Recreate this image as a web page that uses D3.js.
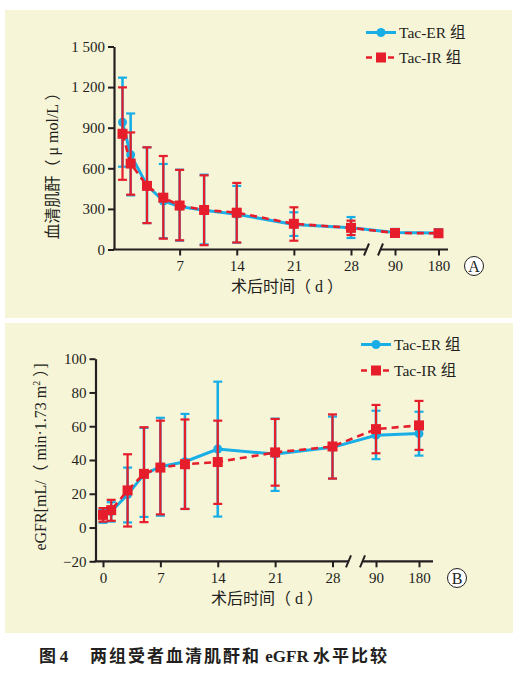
<!DOCTYPE html>
<html><head><meta charset="utf-8">
<script src="https://cdn.jsdelivr.net/npm/d3@7"></script>
<style>
body{margin:0;background:#fff}
svg{display:block}
text{font-family:"Liberation Serif","Noto Sans CJK SC",serif;fill:#231f20}
</style></head><body>
<svg id="c" width="527" height="685"></svg>
<script>
// ---------- data ----------
const days = [0, 1, 3, 5, 7, 10, 14, 21, 28, 90, 180];
const seriesNames = ["Tac-ER 组", "Tac-IR 组"];

const scrER   = [940, 700, 475, 358, 318, 290, 260, 185, 160, 125, 122];
const scrERhi = [1270, 1005, 755, 632, 590, 553, 470, 275, 240, 152, 150];
const scrERlo = [612, 400, 195, 84, 65, 38, 50, 100, 85, 98, 95];
const scrIR   = [855, 635, 470, 383, 325, 292, 272, 190, 160, 122, 120];
const scrIRhi = [1198, 865, 755, 691, 588, 548, 492, 312, 213, 140, 138];
const scrIRlo = [515, 405, 195, 80, 68, 32, 52, 65, 107, 105, 102];

const gfrER   = [7, 9.5, 19.5, 31.5, 36, 39, 46.5, 43.5, 47.5, 54.7, 55.7];
const gfrERhi = [10.5, 15, 35.5, 59, 65, 67.3, 86.4, 64.5, 65.7, 69.2, 68.6];
const gfrERlo = [2.8, 3.5, 3, 6.3, 7, 11, 6.5, 21.7, 29, 40.5, 42.6];
const gfrIR   = [7.5, 10.3, 22, 31.8, 35.5, 37.5, 38.8, 44.5, 48, 58.3, 60.5];
const gfrIRhi = [11.5, 16.4, 43.4, 59.4, 63.3, 64, 63.3, 64.3, 67, 72.6, 75];
const gfrIRlo = [3.5, 4, 0.6, 3.2, 7.8, 11, 14, 24.8, 29, 44, 46];

const scrTicks = [0, 300, 600, 900, 1200, 1500];
const scrTickLabels = ["0", "300", "600", "900", "1 200", "1 500"];
const gfrTicks = [-20, 0, 20, 40, 60, 80, 100];
const gfrTickLabels = ["\u221220", "0", "20", "40", "60", "80", "100"];
const xTicksA = [7, 14, 21, 28, 90, 180];
const xTicksB = [0, 7, 14, 21, 28, 90, 180];
const xDomainKnots = [0, 28, 90, 180];

const BLUE = "#1aaee6", RED = "#e61e2b", INK = "#231f20", BG = "#f7f5d8";

const svg = d3.select("#c");

function panel(cfg) {
  const g = svg.append("g");
  g.append("rect").attr("x", cfg.box[0]).attr("y", cfg.box[1])
    .attr("width", cfg.box[2]).attr("height", cfg.box[3]).attr("fill", BG);

  const x = d3.scaleLinear().domain(xDomainKnots).range(cfg.xr);
  const y = d3.scaleLinear().domain(cfg.yd).range(cfg.yr);

  // y axis
  const ya = g.append("g").attr("transform", `translate(${cfg.ax},0)`)
    .call(d3.axisLeft(y).tickValues(cfg.yTicks).tickSize(6).tickSizeOuter(0).tickPadding(3)
      .tickFormat((d, i) => cfg.yLabels[i]));
  ya.select(".domain").attr("stroke", INK).attr("stroke-width", 2.2);
  ya.selectAll(".tick line").attr("stroke", INK).attr("stroke-width", 2);
  ya.selectAll(".tick text").style("font-size", "15px").attr("fill", INK);

  // x axis
  const base = cfg.yr[0];
  const xa = g.append("g").attr("transform", `translate(0,${base})`)
    .call(d3.axisBottom(x).tickValues(cfg.xTicks).tickSize(6).tickPadding(5));
  xa.select(".domain").remove();
  xa.selectAll(".tick line").attr("stroke", INK).attr("stroke-width", 2);
  xa.selectAll(".tick text").style("font-size", "15px").attr("fill", INK);
  // axis line with break
  g.append("line").attr("x1", cfg.ax - 1).attr("x2", cfg.brk[0]).attr("y1", base).attr("y2", base)
    .attr("stroke", INK).attr("stroke-width", 2.2);
  g.append("line").attr("x1", cfg.brk[1]).attr("x2", cfg.xEnd).attr("y1", base).attr("y2", base)
    .attr("stroke", INK).attr("stroke-width", 2.2);
  cfg.brk.forEach(bx => {
    g.append("line").attr("x1", bx - 3).attr("x2", bx + 2).attr("y1", base + 6).attr("y2", base - 6)
      .attr("stroke", INK).attr("stroke-width", 2);
  });

  // error bars + lines + markers
  const series = [
    {v: cfg.er, hi: cfg.erHi, lo: cfg.erLo, color: BLUE, w: 2.6, dash: null},
    {v: cfg.ir, hi: cfg.irHi, lo: cfg.irLo, color: RED, w: 2.2, dash: "7,5"}
  ];
  series.forEach((s, si) => {
    const eb = g.append("g");
    days.forEach((d, i) => {
      const cx = x(d);
      eb.append("line").attr("x1", cx).attr("x2", cx).attr("y1", y(s.hi[i])).attr("y2", y(s.lo[i]))
        .attr("stroke", s.color).attr("stroke-width", s.w);
      [s.hi[i], s.lo[i]].forEach(v => {
        eb.append("line").attr("x1", cx - 4.5).attr("x2", cx + 4.5).attr("y1", y(v)).attr("y2", y(v))
          .attr("stroke", s.color).attr("stroke-width", 2.2);
      });
    });
    const line = d3.line().x((d, i) => x(d)).y((d, i) => y(s.v[i]));
    g.append("path").datum(days).attr("d", line).attr("fill", "none")
      .attr("stroke", s.color).attr("stroke-width", si === 0 ? 3 : 2.6)
      .attr("stroke-dasharray", s.dash);
    days.forEach((d, i) => {
      if (si === 0) {
        g.append("circle").attr("cx", x(d)).attr("cy", y(s.v[i])).attr("r", 4.5).attr("fill", BLUE);
      } else {
        g.append("rect").attr("x", x(d) - 5).attr("y", y(s.v[i]) - 5).attr("width", 10).attr("height", 10).attr("fill", RED);
      }
    });
  });

  // legend
  const lg = g.append("g");
  const [lx, ly1, ly2] = cfg.legend;
  lg.append("line").attr("x1", lx).attr("x2", lx + 30).attr("y1", ly1).attr("y2", ly1)
    .attr("stroke", BLUE).attr("stroke-width", 3);
  lg.append("circle").attr("cx", lx + 15).attr("cy", ly1).attr("r", 4.5).attr("fill", BLUE);
  lg.append("text").attr("x", lx + 33).attr("y", ly1 + 5.5).style("font-size", "15.5px").text(seriesNames[0]);
  lg.append("line").attr("x1", lx).attr("x2", lx + 30).attr("y1", ly2).attr("y2", ly2)
    .attr("stroke", RED).attr("stroke-width", 2.6).attr("stroke-dasharray", "6,5");
  lg.append("rect").attr("x", lx + 10).attr("y", ly2 - 5).attr("width", 10).attr("height", 10).attr("fill", RED);
  lg.append("text").attr("x", lx + 33).attr("y", ly2 + 5.5).style("font-size", "15.5px").text(seriesNames[1]);

  // titles
  g.append("text").attr("x", cfg.xt[0]).attr("y", cfg.xt[1]).attr("text-anchor", "middle")
    .style("font-size", "16px").text("术后时间（ d ）");
  const yt = g.append("text").attr("transform", `translate(${cfg.yt[0]},${cfg.yt[1]}) rotate(-90)`)
    .attr("text-anchor", "middle").style("font-size", "16px");
  cfg.ytitle(yt);

  // panel letter
  g.append("circle").attr("cx", cfg.letter[0]).attr("cy", cfg.letter[1]).attr("r", 9.5)
    .attr("fill", "#fff").attr("stroke", INK).attr("stroke-width", 1);
  g.append("text").attr("x", cfg.letter[0]).attr("y", cfg.letter[1] + 5.5).attr("text-anchor", "middle")
    .style("font-size", "16px").text(cfg.letterText);
}

panel({
  box: [5, 10, 507, 308],
  xr: [122.5, 351, 395, 438.5], yd: [0, 1500], yr: [249.5, 46.5],
  ax: 114, xEnd: 448, brk: [367, 381],
  yTicks: scrTicks, yLabels: scrTickLabels, xTicks: xTicksA,
  er: scrER, erHi: scrERhi, erLo: scrERlo, ir: scrIR, irHi: scrIRhi, irLo: scrIRlo,
  legend: [366, 32.5, 57.5],
  xt: [287, 292], yt: [58, 162],
  ytitle: t => t.text("血清肌酐（ μ mol/L ）"),
  letter: [474, 266], letterText: "A"
});

panel({
  box: [5, 323, 508, 310],
  xr: [103, 332.5, 376, 419], yd: [-20, 100], yr: [561.3, 358.7],
  ax: 95.5, xEnd: 433, brk: [349, 363],
  yTicks: gfrTicks, yLabels: gfrTickLabels, xTicks: xTicksB,
  er: gfrER, erHi: gfrERhi, erLo: gfrERlo, ir: gfrIR, irHi: gfrIRhi, irLo: gfrIRlo,
  legend: [361, 344.5, 370.5],
  xt: [267, 604], yt: [46, 457],
  ytitle: t => {
    t.append("tspan").text("eGFR[mL/（ min·1.73 m");
    t.append("tspan").attr("dy", -6).style("font-size", "10px").text("2");
    t.append("tspan").attr("dy", 6).text(" ）]");
  },
  letter: [457, 578], letterText: "B"
});

// caption
const cap = svg.append("text").attr("x", 39).attr("y", 662).style("font-size", "17px").style("font-weight", "bold");
cap.append("tspan").style("font-family", "'Noto Sans CJK SC'").text("图 ");
cap.append("tspan").text("4");
cap.append("tspan").attr("x", 90).style("font-family", "'Noto Sans CJK SC'").attr("letter-spacing", "2").text("两组受者血清肌酐和");
cap.append("tspan").text(" eGFR ");
cap.append("tspan").style("font-family", "'Noto Sans CJK SC'").attr("letter-spacing", "2").text("水平比较");
</script>
</body></html>
